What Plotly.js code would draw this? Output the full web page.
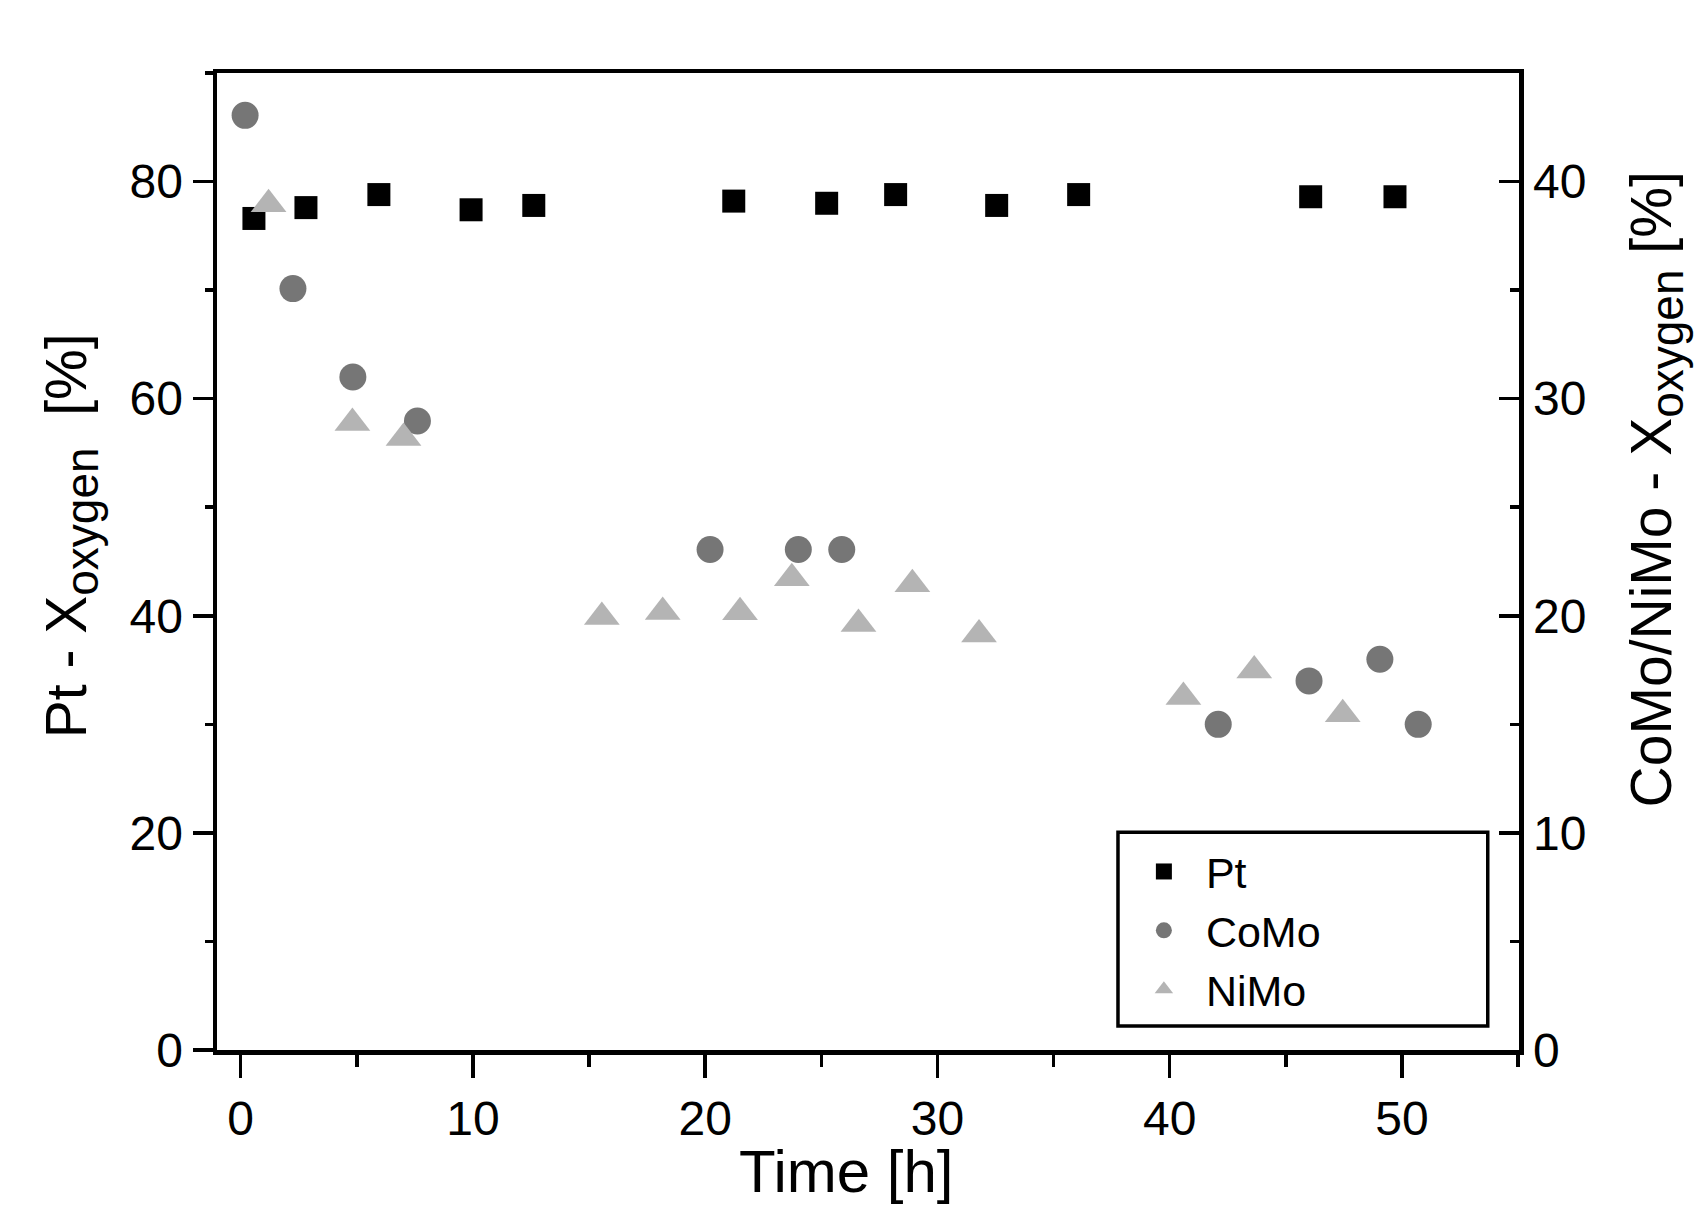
<!DOCTYPE html>
<html><head><meta charset="utf-8">
<script src="https://cdn.plot.ly/plotly-3.0.1.min.js"></script>
<style>html,body{margin:0;padding:0;background:#fff;} #chart{width:1699px;height:1210px;}</style>
</head><body><div id="chart"></div>
<script>
// Pt (left axis)
const ptTime = [0.57, 2.81, 5.95, 9.92, 12.62, 21.23, 25.23, 28.2, 32.55, 36.08, 46.07, 49.7];
const ptConv = [76.6, 77.6, 78.8, 77.4, 77.8, 78.2, 78.0, 78.8, 77.8, 78.8, 78.6, 78.6];
// CoMo (right axis)
const comoTime = [0.19, 2.25, 4.83, 7.61, 20.21, 24.01, 25.88, 42.09, 46.0, 49.05, 50.7];
const comoConv = [43.05, 35.07, 31.0, 28.97, 23.05, 23.05, 23.05, 15.0, 17.0, 18.0, 15.0];
// NiMo (right axis)
const nimoTime = [1.2, 4.81, 7.01, 15.55, 18.17, 21.5, 23.73, 26.6, 28.92, 31.79, 40.59, 43.64, 47.45];
const nimoConv = [38.95, 28.88, 28.19, 19.94, 20.17, 20.16, 21.73, 19.62, 21.45, 19.14, 16.26, 17.48, 15.47];

const xTicks = [0, 10, 20, 30, 40, 50];
const yLeftTicks = [0, 20, 40, 60, 80];
const yRightTicks = [0, 10, 20, 30, 40];

const xTitle = 'Time [h]';
const yLeftTitle = 'Pt - X<sub><span style="font-size:46px">oxygen</span></sub>  [%]';
const yRightTitle = 'CoMo/NiMo - X<sub><span style="font-size:46px">oxygen</span></sub> [%]';

const FONT = 'Arial, Liberation Sans, sans-serif';

const traces = [
  {x: ptTime, y: ptConv, name: 'Pt', type: 'scatter', mode: 'markers',
   marker: {symbol: 'square', size: 23, color: '#000000'}, yaxis: 'y'},
  {x: comoTime, y: comoConv, name: 'CoMo', type: 'scatter', mode: 'markers',
   marker: {symbol: 'circle', size: 27, color: '#767676'}, yaxis: 'y2'},
  {x: nimoTime, y: nimoConv, name: 'NiMo', type: 'scatter', mode: 'markers',
   marker: {symbol: 'triangle-up', size: 31, color: '#b4b4b4'}, yaxis: 'y2'}
];

const layout = {
  width: 1699, height: 1210,
  margin: {l: 217, r: 180, t: 73, b: 160},
  paper_bgcolor: '#ffffff', plot_bgcolor: '#ffffff',
  font: {family: FONT, color: '#000000', size: 48},
  showlegend: true,
  legend: {
    x: 0.695, y: 0.218, xanchor: 'left', yanchor: 'top',
    borderwidth: 0, bgcolor: 'rgba(255,255,255,0)',
    font: {family: FONT, size: 43, color: '#000000'},
    itemwidth: 74, tracegroupgap: 0
  },
  shapes: [
    {type: 'rect', xref: 'paper', yref: 'paper', x0: 0.692, x1: 0.976, y0: 0.0246, y1: 0.223,
     line: {color: '#000000', width: 3.5}, fillcolor: 'rgba(0,0,0,0)', layer: 'above'}
  ],
  annotations: [
    {text: xTitle, xref: 'paper', yref: 'paper', x: 0.483, y: -0.124, xanchor: 'center', yanchor: 'middle',
     showarrow: false, borderpad: 0, font: {size: 60, family: FONT, color: '#000'}},
    {text: yLeftTitle, xref: 'paper', yref: 'paper', x: -0.112, y: 0.526, xanchor: 'center', yanchor: 'middle',
     textangle: -90, showarrow: false, font: {size: 57, family: FONT, color: '#000'}},
    {text: yRightTitle, xref: 'paper', yref: 'paper', x: 1.105, y: 0.5735, xanchor: 'center', yanchor: 'middle',
     textangle: -90, showarrow: false, font: {size: 57, family: FONT, color: '#000'}}
  ],
  xaxis: {
    range: [-1.02, 55.04], tickvals: xTicks, ticktext: xTicks.map(String),
    showgrid: false, zeroline: false, showline: true, linewidth: 4.5, linecolor: '#000',
    mirror: true, ticks: 'outside', ticklen: 23, tickwidth: 3.5, tickcolor: '#000',
    minor: {dtick: 5, ticks: 'outside', ticklen: 12, tickwidth: 3.5, tickcolor: '#000', showgrid: false},
    tickfont: {size: 48, family: FONT},
    automargin: false
  },
  yaxis: {
    range: [0, 90], tickvals: yLeftTicks, ticktext: yLeftTicks.map(String),
    showgrid: false, zeroline: false, showline: true, linewidth: 4.5, linecolor: '#000',
    ticks: 'outside', ticklen: 20, tickwidth: 3.5, tickcolor: '#000',
    minor: {dtick: 10, ticks: 'outside', ticklen: 8, tickwidth: 3.5, tickcolor: '#000', showgrid: false},
    tickfont: {size: 48, family: FONT},
    automargin: false
  },
  yaxis2: {
    range: [0, 45], overlaying: 'y', side: 'right', tickvals: yRightTicks, ticktext: yRightTicks.map(String),
    showgrid: false, zeroline: false, showline: true, linewidth: 4.5, linecolor: '#000',
    ticks: 'inside', ticklen: 20, tickwidth: 3.5, tickcolor: '#000',
    minor: {dtick: 5, ticks: 'inside', ticklen: 9, tickwidth: 3.5, tickcolor: '#000', showgrid: false},
    tickfont: {size: 48, family: FONT},
    automargin: false
  }
};

Plotly.newPlot('chart', traces, layout, {displayModeBar: false, staticPlot: true});
</script>
</body></html>
